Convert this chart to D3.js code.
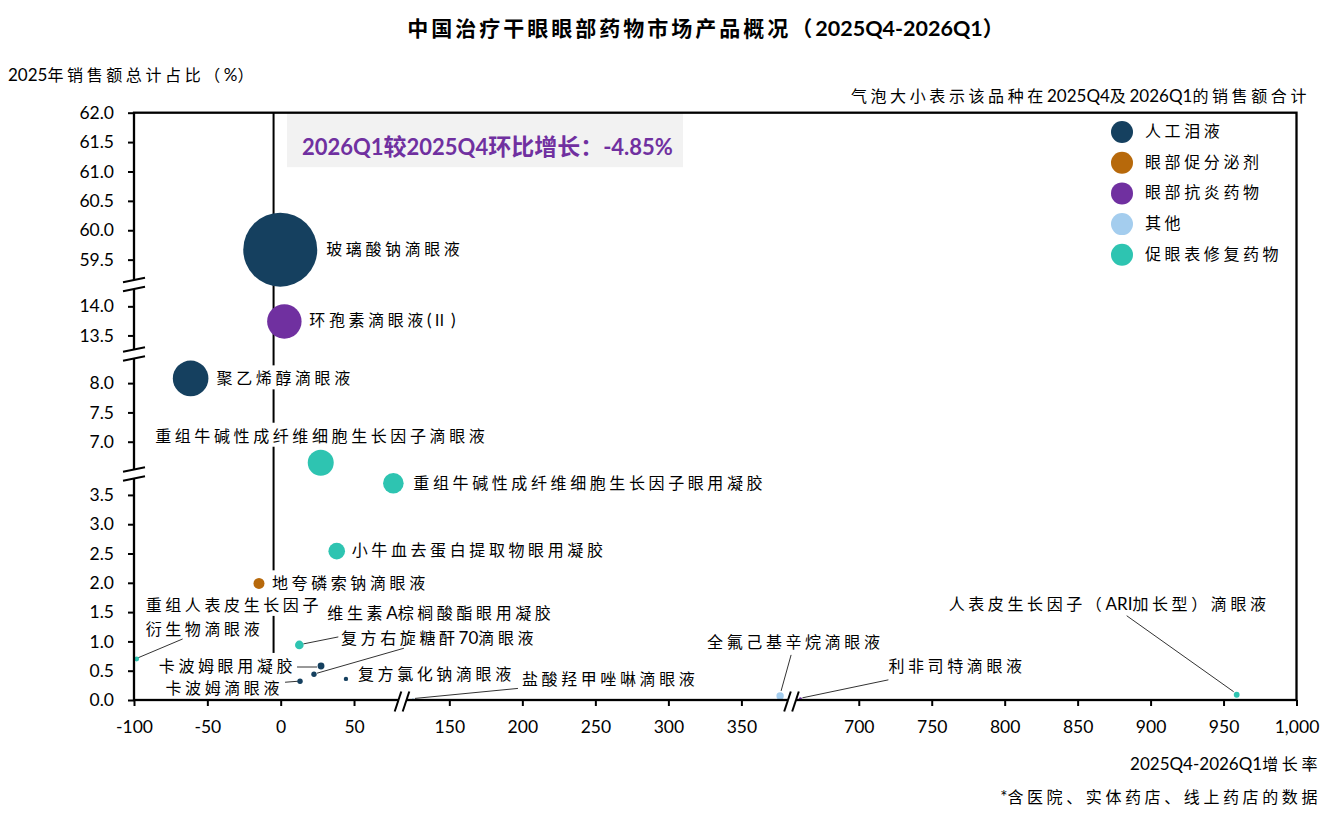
<!DOCTYPE html>
<html>
<head>
<meta charset="utf-8">
<script src="https://cdn.jsdelivr.net/npm/d3@7"></script>
<style>
  body { margin: 0; background: #fff; }
  svg { display: block; }
</style>
</head>
<body>
<svg id="chart" width="1326" height="813"></svg>
<script>
// ---- data ----
const categories = ["人工泪液", "眼部促分泌剂", "眼部抗炎药物", "其他", "促眼表修复药物"];
const categoryColors = ["#15405f", "#b7690b", "#7030a0", "#a4cdee", "#2ec4b1"];

const products = [
    "玻璃酸钠滴眼液", "环孢素滴眼液(Ⅱ)", "聚乙烯醇滴眼液",
    "重组牛碱性成纤维细胞生长因子滴眼液", "重组牛碱性成纤维细胞生长因子眼用凝胶",
    "小牛血去蛋白提取物眼用凝胶", "地夸磷索钠滴眼液", "重组人表皮生长因子衍生物滴眼液",
    "维生素A棕榈酸酯眼用凝胶", "复方右旋糖酐70滴眼液", "卡波姆眼用凝胶", "卡波姆滴眼液",
    "复方氯化钠滴眼液", "盐酸羟甲唑啉滴眼液", "全氟己基辛烷滴眼液", "利非司特滴眼液",
    "人表皮生长因子（ARI加长型）滴眼液"
];
// index into categories
const productCategory = [0, 2, 0, 4, 4, 4, 1, 4, 4, 0, 0, 0, 0, 3, 3, 2, 4];
// 2025Q4-2026Q1 growth rate (%)
const growthRate = [-0.3, 2.5, -61.4, 27.3, 76.8, 38.2, -14.8, -98.2, 12.7, 22.7, 27.5, 13.2, 44.5, 125.1, 376.5, 660, 959];
// share of 2025 total sales (%)
const salesShare2025 = [59.67, 13.74, 8.08, 6.64, 3.70, 2.54, 1.99, 0.70, 0.94, 0.44, 0.58, 0.32, 0.36, 0.01, 0.07, 0.02, 0.09];
// 2025Q4 + 2026Q1 sales (relative, bubble size)
const salesQ4Q1 = [60, 13.0, 13.9, 7.41, 4.65, 3.02, 1.33, 0.27, 0.81, 0.32, 0.51, 0.32, 0.21, 0.063, 0.6, 0.11, 0.37];

const marketGrowth = -4.85;
const xTicks = [-100, -50, 0, 50, 150, 200, 250, 300, 350, 700, 750, 800, 850, 900, 950, 1000];
const yTicks = [0, 0.5, 1, 1.5, 2, 2.5, 3, 3.5, 7, 7.5, 8, 13.5, 14, 59.5, 60, 60.5, 61, 61.5, 62];

(function () {
    const svg = d3.select("#chart");
    const CJK = "'Noto Sans CJK SC', sans-serif";
    const LAT = "Lato, 'Noto Sans CJK SC', sans-serif";

    // plot box
    const P = { left: 134, right: 1296.5, top: 112.7, bottom: 700 };
    // pixel positions of the axis breaks
    const xBreaks = [402, 791.5];
    const yBreaks = [474, 354, 284.5];

    // broken axes: polylinear scales, repeated range stop at each break
    const x = d3.scaleLinear()
        .domain([-100, 82.7, 117.6, 384.3, 653.9, 1000])
        .range([P.left, xBreaks[0], xBreaks[0], xBreaks[1], xBreaks[1], P.right]);
    const y = d3.scaleLinear()
        .domain([0, 3.857, 6.449, 8.497, 13.181, 14.375, 59.077, 62])
        .range([P.bottom, yBreaks[0], yBreaks[0], yBreaks[1], yBreaks[1], yBreaks[2], yBreaks[2], P.top]);
    const r = d3.scaleSqrt().domain([0, d3.max(salesQ4Q1)]).range([0, 37]);

    // label placement relative to bubble centre (layout only)
    const labelLayout = [
        { dx: 46, dy: -1 }, { dx: 25, dy: -1 }, { dx: 26, dy: 0 },
        { dx: 1, dy: -27, anchor: "middle" }, { dx: 20, dy: 0 },
        { dx: 15, dy: -1 }, { dx: 13, dy: 0 },
        { dx: 9, dy: -54, lines: ["重组人表皮生长因子", "衍生物滴眼液"], lead: [1, -1, 46, -20] },
        { dx: 28, dy: -32, lead: [4, -1, 39, -8] },
        { dx: 27, dy: -36, lead: [3, -1, 90, -26] },
        { dx: -25, dy: 0, anchor: "end", lead: [-24, 1, -4, 1] },
        { dx: -17, dy: 7, anchor: "end", lead: [-15, 1, -2, 0] },
        { dx: 12, dy: -5 },
        { dx: 109, dy: -20, lead: [2, -1, 105, -11] },
        { dx: -73, dy: -54, lead: [1, -5, 11, -41] },
        { dx: 88, dy: -33, lead: [2, -1, 88, -19] },
        { dx: -288, dy: -91, lead: [-3, -3, -110, -79] }
    ];

    // write CJK runs and Latin runs in their own fonts
    const CJK_RUN = /[\u2160-\u217f\u3000-\u303f\u3400-\u9fff\uff00-\uffef]+|[^\u2160-\u217f\u3000-\u303f\u3400-\u9fff\uff00-\uffef]+/g;
    function rich(t, str, o) {
        t.attr("font-family", CJK).attr("font-size", o.cjk).attr("dy", "0.37em")
            .attr("fill", o.fill || "#000").attr("font-weight", o.bold ? 700 : 400);
        (str.match(CJK_RUN) || []).forEach(s => {
            const c = /[\u2160-\u217f\u3000-\u303f\u3400-\u9fff\uff00-\uffef]/.test(s);
            t.append("tspan").text(s)
                .attr("font-family", c ? CJK : LAT)
                .attr("font-size", c ? o.cjk : o.lat)
                .attr("letter-spacing", c ? (o.ls == null ? 3.6 : o.ls) : 0);
        });
        return t;
    }
    const LABEL = { cjk: 16, lat: 17 };

    // grey summary box
    svg.append("rect")
        .attr("x", 287).attr("y", P.top).attr("width", 396).attr("height", 54.5)
        .attr("fill", "#f2f2f2");
    rich(svg.append("text").attr("x", 302).attr("y", 146), "2026Q1较2025Q4环比增长：-4.85%",
        { cjk: 23, lat: 22, ls: 0, bold: true, fill: "#7030a0" });

    // market growth reference line
    svg.append("line")
        .attr("x1", x(marketGrowth)).attr("x2", x(marketGrowth))
        .attr("y1", P.top).attr("y2", P.bottom)
        .attr("stroke", "#000").attr("stroke-width", 2);

    const gBg = svg.append("g");
    const gLead = svg.append("g");
    const gDots = svg.append("g");
    const gText = svg.append("g");

    products.forEach((name, i) => {
        const cx = x(growthRate[i]), cy = y(salesShare2025[i]);
        const L = labelLayout[i];
        const lines = L.lines || [name];
        lines.forEach((ln, k) => {
            const t = gText.append("text")
                .attr("x", cx + L.dx).attr("y", cy + L.dy + k * 24)
                .attr("text-anchor", L.anchor || "start");
            rich(t, ln, LABEL);
            const b = t.node().getBBox();
            gBg.append("rect")
                .attr("x", b.x - 1).attr("y", b.y).attr("width", b.width + 2).attr("height", b.height)
                .attr("fill", "#fff");
        });
        if (L.lead) {
            gLead.append("line")
                .attr("x1", cx + L.lead[0]).attr("y1", cy + L.lead[1])
                .attr("x2", cx + L.lead[2]).attr("y2", cy + L.lead[3])
                .attr("stroke", "#333").attr("stroke-width", 1);
        }
        gDots.append("circle")
            .attr("cx", cx).attr("cy", cy).attr("r", r(salesQ4Q1[i]))
            .attr("fill", categoryColors[productCategory[i]]);
    });

    // frame
    svg.append("rect")
        .attr("x", P.left).attr("y", P.top)
        .attr("width", P.right - P.left).attr("height", P.bottom - P.top)
        .attr("fill", "none").attr("stroke", "#000").attr("stroke-width", 2.3);

    // axes
    const minus = s => s.replace("\u2212", "-");
    const yAxis = svg.append("g")
        .attr("transform", `translate(${P.left},0)`)
        .call(d3.axisLeft(y).tickValues(yTicks).tickFormat(d => minus(d3.format(".1f")(d))).tickSize(6).tickPadding(14));
    const xAxis = svg.append("g")
        .attr("transform", `translate(0,${P.bottom})`)
        .call(d3.axisBottom(x).tickValues(xTicks).tickFormat(d => minus(d3.format(",")(d))).tickSize(6));
    [yAxis, xAxis].forEach(g => {
        g.select(".domain").remove();
        g.selectAll(".tick line").attr("stroke", "#000").attr("stroke-width", 2);
        g.selectAll(".tick text").attr("font-family", LAT).attr("font-size", 17.5).attr("fill", "#000");
    });
    xAxis.selectAll(".tick text").attr("y", 27).attr("dy", "0.36em");

    // break marks
    yBreaks.forEach(yb => {
        const a = [[P.left - 11, yb - 2.3], [P.left + 11, yb - 6.7], [P.left + 11, yb + 2.3], [P.left - 11, yb + 6.7]];
        svg.append("polygon").attr("points", a.join(" ")).attr("fill", "#fff");
        [[a[0], a[1]], [a[3], a[2]]].forEach(s => svg.append("line")
            .attr("x1", s[0][0]).attr("y1", s[0][1]).attr("x2", s[1][0]).attr("y2", s[1][1])
            .attr("stroke", "#000").attr("stroke-width", 2));
    });
    xBreaks.forEach(xb => {
        const yc = P.bottom + 1.5;
        const a = [[xb - 7.3, yc + 10], [xb - 0.7, yc - 10], [xb + 7.3, yc - 10], [xb + 0.7, yc + 10]];
        svg.append("polygon").attr("points", a.join(" ")).attr("fill", "#fff");
        [[a[0], a[1]], [a[3], a[2]]].forEach(s => svg.append("line")
            .attr("x1", s[0][0]).attr("y1", s[0][1]).attr("x2", s[1][0]).attr("y2", s[1][1])
            .attr("stroke", "#000").attr("stroke-width", 2));
    });

    // legend
    const legend = svg.append("g").attr("transform", "translate(1122,132)");
    categories.forEach((c, i) => {
        legend.append("circle").attr("cx", 0).attr("cy", i * 30.7).attr("r", 11).attr("fill", categoryColors[i]);
        rich(legend.append("text").attr("x", 23).attr("y", i * 30.7 - 1), c, LABEL);
    });

    // titles and notes
    rich(svg.append("text").attr("x", 707).attr("y", 28).attr("text-anchor", "middle"),
        "中国治疗干眼眼部药物市场产品概况（2025Q4-2026Q1）", { cjk: 21, lat: 21.5, ls: 3, bold: true });
    rich(svg.append("text").attr("x", 8).attr("y", 75), "2025年销售额总计占比（%）", LABEL);
    rich(svg.append("text").attr("x", 1310).attr("y", 96).attr("text-anchor", "end"),
        "气泡大小表示该品种在2025Q4及2026Q1的销售额合计", LABEL);
    rich(svg.append("text").attr("x", 1321).attr("y", 764).attr("text-anchor", "end"),
        "2025Q4-2026Q1增长率", LABEL);
    rich(svg.append("text").attr("x", 1321).attr("y", 797).attr("text-anchor", "end"),
        "*含医院、实体药店、线上药店的数据", LABEL);
})();
</script>
</body>
</html>
